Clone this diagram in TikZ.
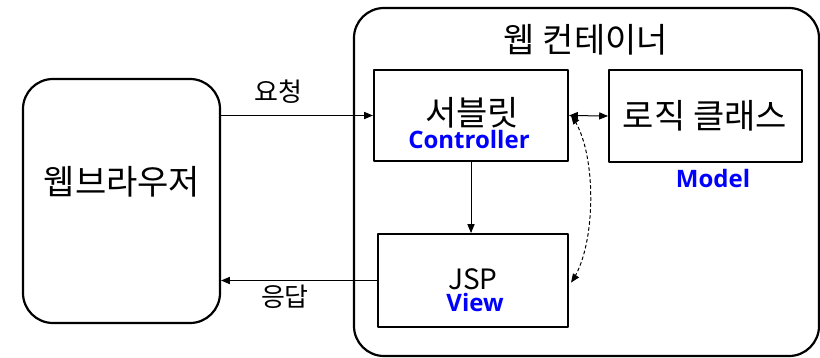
\documentclass[tikz,border=0pt]{standalone}
\usepackage{fontspec}
\setmainfont{Noto Sans CJK KR}
\newfontfamily\rolefont{Open Sans}
\usetikzlibrary{arrows}
\definecolor{mvcblue}{RGB}{0,0,255}

\begin{document}
\begin{tikzpicture}[line cap=round,line join=round,>=triangle 45,x=1pt,y=-1pt,
		box/.style={draw,line width=2.2pt,inner sep=0pt},
		lbl/.style={font=\fontsize{34}{40}\selectfont,inner sep=0pt},
		msg/.style={font=\fontsize{26}{30}\selectfont,inner sep=0pt},
		role/.style={font=\rolefont\bfseries\fontsize{24}{28}\selectfont,text=mvcblue,inner sep=0pt}]
			\useasboundingbox (0,0) rectangle (820,357);
			% boxes
			\node [box,rounded corners=30pt,minimum width=197pt,minimum height=244pt] (browser) at (121.5,201) {};
			\node [box,rounded corners=30pt,minimum width=465pt,minimum height=348pt] (container) at (586.5,182) {};
			\node [box,minimum width=194pt,minimum height=91pt] (servlet) at (471,115.5) {};
			\node [box,minimum width=193pt,minimum height=92pt] (logic) at (705.5,116) {};
			\node [box,minimum width=190pt,minimum height=93pt] (jsp) at (473,280.5) {};
			% texts
			\node [lbl] (browserlbl) at (122,182) {웹브라우저};
			\node [lbl] (containerlbl) at (586,40) {웹 컨테이너};
			\node [lbl] (servletlbl) at (472,113) {서블릿};
			\node [lbl] (logiclbl) at (705,116) {로직 클래스};
			\node [lbl,font=\fontsize{28}{32}\selectfont] (jsplbl) at (473,279) {JSP};
			\node [role] (controllerlbl) at (469,139) {Controller};
			\node [role] (modellbl) at (713,178) {Model};
			\node [role] (viewlbl) at (475,302) {View};
			% connectors
			\draw [->,line width=1pt] (browser.east |- servlet.west) -- (servlet.west) node [msg,pos=0.38,above=12pt] (reqlbl) {요청};
			\draw [->,line width=1pt] (jsp.west) -- (browser.east |- jsp.west) node [msg,pos=0.59,below=4pt] (resplbl) {응답};
			\draw [->,line width=1pt] (servlet.south) -- (servlet.south |- jsp.north);
			\draw [<->,line width=1pt] (servlet.east) -- (logic.west);
			\draw [<->,line width=1pt,dashed] ([xshift=2pt]servlet.east) .. controls (597,150) and (597,245) .. ([xshift=2pt,yshift=-2pt]jsp.east);
		\end{tikzpicture}
\end{document}
